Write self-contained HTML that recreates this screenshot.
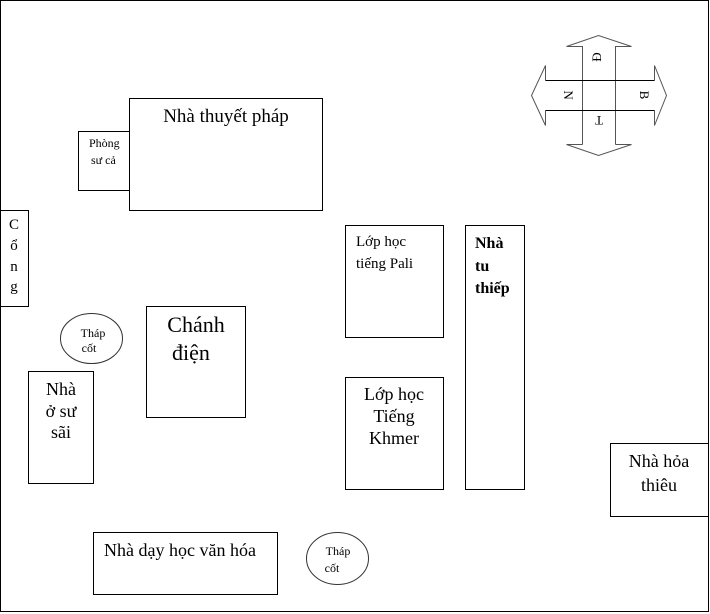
<!DOCTYPE html>
<html><head><meta charset="utf-8"><style>
html,body{margin:0;padding:0;background:#fff}
svg{display:block}
text{font-family:"Liberation Serif",serif;fill:#000}
</style></head><body>
<svg width="710" height="614" viewBox="0 0 710 614" xmlns="http://www.w3.org/2000/svg">
<g fill="none" stroke="#000" stroke-width="1">
<rect x="0.5" y="0.5" width="708" height="611"/>
<rect x="129.5" y="98.5" width="193" height="112"/>
<rect x="78.5" y="131.5" width="51" height="59" fill="#fff"/>
<rect x="0.5" y="210.5" width="28" height="96"/>
<ellipse cx="91.5" cy="338.5" rx="31" ry="25" stroke="#333"/>
<rect x="146.5" y="306.5" width="99" height="111"/>
<rect x="28.5" y="371.5" width="65" height="112"/>
<rect x="345.5" y="225.5" width="98" height="112"/>
<rect x="345.5" y="377.5" width="98" height="112"/>
<rect x="465.5" y="225.5" width="59" height="264"/>
<rect x="610.5" y="443.5" width="98" height="73"/>
<rect x="93.5" y="532.5" width="184" height="62"/>
<ellipse cx="337.5" cy="558.5" rx="31" ry="26" stroke="#333"/>
<path d="M582.5,144.5 V46.5 H566.5 L598.5,35.5 L631.5,46.5 H615.5 V144.5" stroke="#555"/>
<path d="M582.5,144.5 H566.5 L598.5,155.5 L631.5,144.5 H615.5" stroke="#555"/>
<path d="M545.5,80.5 V65.5 L531.5,95.5 L545.5,125.5 V110.5" stroke="#555"/>
<path d="M654.5,80.5 V65.5 L666.5,95.5 L654.5,125.5 V110.5" stroke="#555"/>
<line x1="545.5" y1="80.5" x2="654.5" y2="80.5"/>
<line x1="545.5" y1="110.5" x2="654.5" y2="110.5"/>
</g>
<text font-size="13" transform="translate(598,57) rotate(-90)" text-anchor="middle" dominant-baseline="middle">Đ</text>
<text font-size="13" transform="translate(567,95) rotate(90)" text-anchor="middle" dominant-baseline="middle">N</text>
<text font-size="13" transform="translate(643,95) rotate(90)" text-anchor="middle" dominant-baseline="middle">B</text>
<text font-size="13" transform="translate(599,119) rotate(180)" text-anchor="middle" dominant-baseline="middle">T</text>

<text x="226" y="122" font-size="19" text-anchor="middle">Nhà thuyết pháp</text>
<text x="89" y="147" font-size="12">Phòng</text>
<text x="91" y="164" font-size="12">sư cả</text>
<g font-size="15" text-anchor="middle">
<text x="14" y="229">C</text><text x="14" y="250">ổ</text><text x="14" y="271">n</text><text x="14" y="291">g</text>
</g>
<text x="93" y="337" font-size="12" text-anchor="middle">Tháp</text>
<text x="89" y="352" font-size="12" text-anchor="middle">cốt</text>
<text x="196" y="332" font-size="22" text-anchor="middle">Chánh</text>
<text x="191" y="360" font-size="22" text-anchor="middle">điện</text>
<text x="61" y="395" font-size="18" text-anchor="middle">Nhà</text>
<text x="61" y="417" font-size="18" text-anchor="middle">ở sư</text>
<text x="61" y="438" font-size="18" text-anchor="middle">sãi</text>
<text x="356" y="246" font-size="15">Lớp học</text>
<text x="356" y="268" font-size="15">tiếng Pali</text>
<text x="394" y="400" font-size="18" text-anchor="middle">Lớp học</text>
<text x="394" y="422" font-size="18" text-anchor="middle">Tiếng</text>
<text x="394" y="444" font-size="18" text-anchor="middle">Khmer</text>
<text x="475" y="248" font-size="16" font-weight="bold">Nhà</text>
<text x="475" y="271" font-size="16" font-weight="bold">tu</text>
<text x="475" y="293" font-size="16" font-weight="bold">thiếp</text>
<text x="659" y="467" font-size="18" text-anchor="middle">Nhà hỏa</text>
<text x="659" y="491" font-size="18" text-anchor="middle">thiêu</text>
<text x="104" y="556" font-size="18">Nhà dạy học văn hóa</text>
<text x="338" y="555" font-size="12" text-anchor="middle">Tháp</text>
<text x="332" y="572" font-size="12" text-anchor="middle">cốt</text>
</svg>
</body></html>
